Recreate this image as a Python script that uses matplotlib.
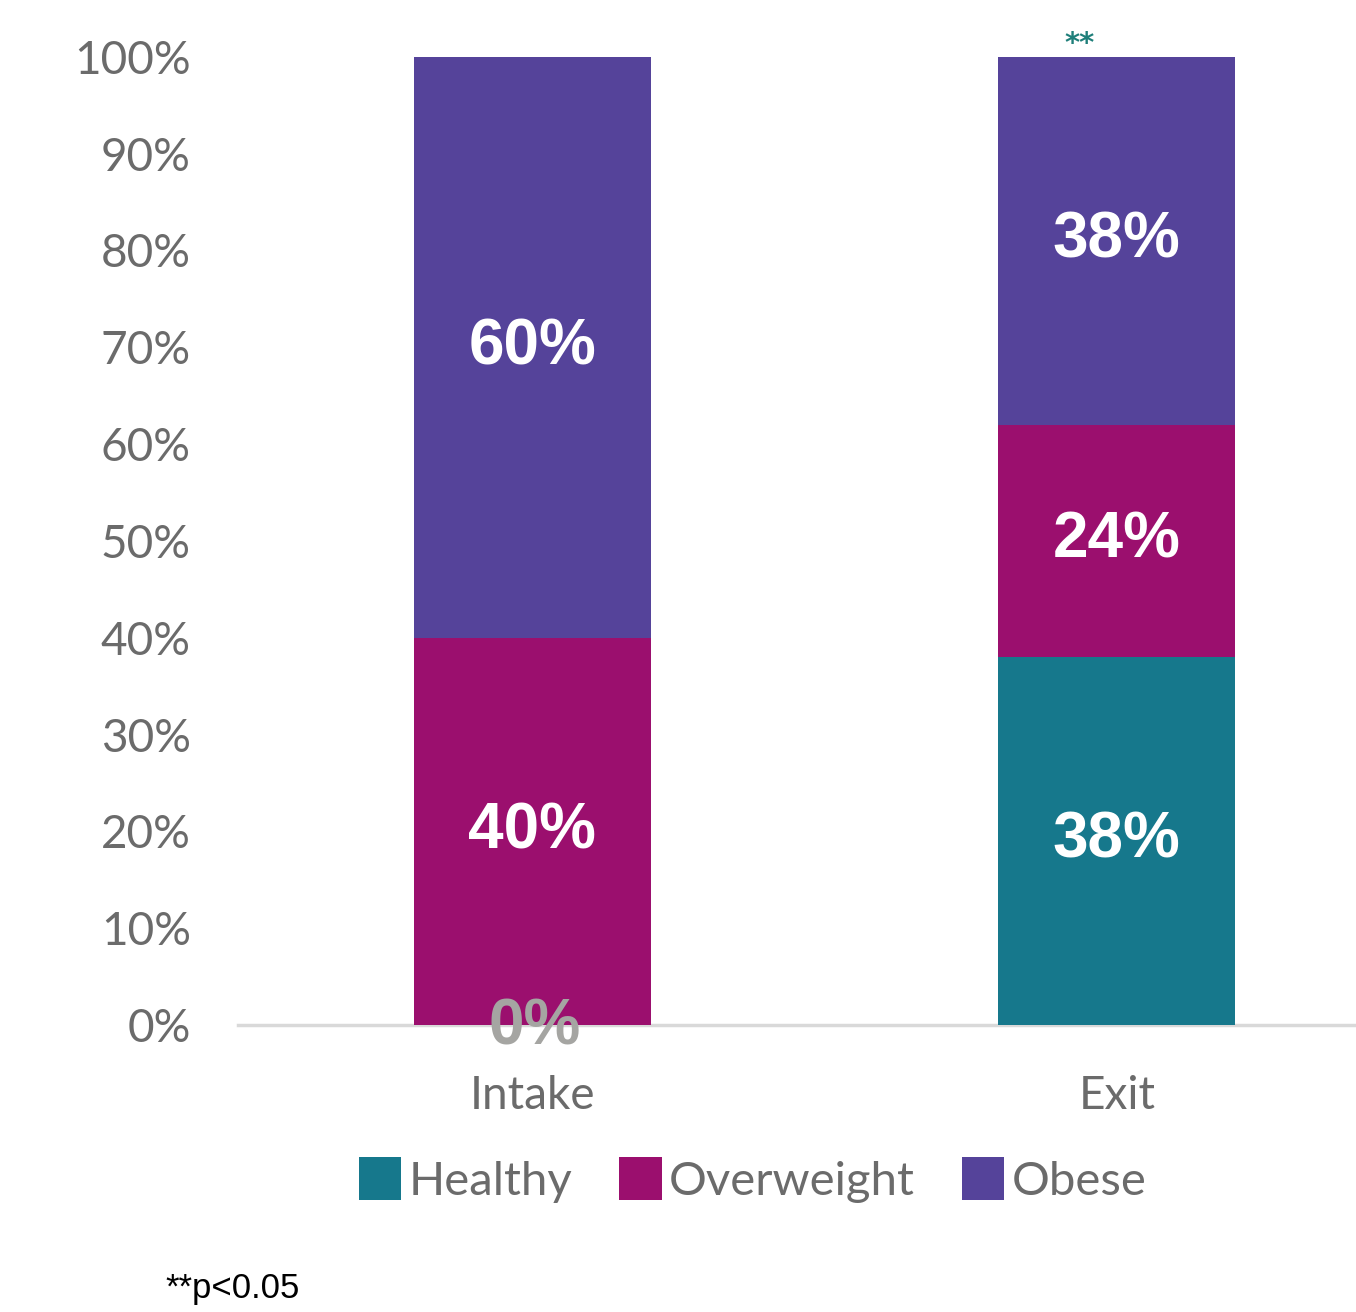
import matplotlib.pyplot as plt
import numpy as np

categories = ["Intake", "Exit"]
series_names = ["Healthy", "Overweight", "Obese"]
healthy = [0.00, 0.38]
overweight = [0.40, 0.24]
obese = [0.60, 0.38]
y_ticks = [0.0, 0.1, 0.2, 0.3, 0.4, 0.5, 0.6, 0.7, 0.8, 0.9, 1.0]

colors = ["#16788c", "#9b0f6e", "#55439a"]
gray = "#6b6b6b"


def main():
    fig = plt.figure(figsize=(13.56, 13.12), dpi=100)
    ax = fig.add_axes([0.1755, 0.2188, 0.8245, 0.760])

    x = np.arange(len(categories))
    width = 0.405
    bottom = np.zeros(len(categories))
    for name, vals, col in zip(series_names, [healthy, overweight, obese], colors):
        vals = np.array(vals)
        ax.bar(x, vals, width, bottom=bottom, color=col, label=name, zorder=2)
        # value labels in the middle of each segment
        for xi, v, b in zip(x, vals, bottom):
            if v > 0:
                ax.text(xi, b + v / 2, "%d%%" % round(v * 100), ha="center", va="center",
                        color="white", fontsize=46, fontweight="bold",
                        family="Liberation Sans", zorder=3)
            else:
                ax.text(xi + 0.005, b - 0.003, "%d%%" % round(v * 100), ha="center", va="center",
                        color="#a5a5a2", fontsize=46, fontweight="bold",
                        family="Liberation Sans", zorder=3)
        bottom = bottom + vals

    # significance marker above the exit bar
    ax.text(x[1] - 0.063, bottom[1] + 0.013, "**", ha="center", va="center",
            color="#1f7f7a", fontsize=21, fontweight="bold", family="DejaVu Sans")

    ax.set_xlim(-0.503, 1.409)
    ax.set_ylim(0, 1.03)
    ax.set_yticks(y_ticks)
    ax.set_yticklabels(["%d%%" % round(t * 100) for t in y_ticks], fontsize=33,
                       color=gray, family="Lato")
    ax.set_xticks(x)
    ax.set_xticklabels(categories, fontsize=33, color=gray, family="Lato")
    ax.tick_params(axis="y", length=0, pad=34)
    ax.tick_params(axis="x", length=0, pad=36)

    for s in ["top", "right", "left"]:
        ax.spines[s].set_visible(False)
    ax.spines["bottom"].set_color("#d9d9d9")
    ax.spines["bottom"].set_linewidth(2.5)
    ax.spines["bottom"].set_zorder(1)

    fig.legend(loc="center", bbox_to_anchor=(0.555, 0.1006), ncol=3, frameon=False,
               prop={"family": "Lato", "size": 34}, labelcolor=gray,
               handlelength=0.9, handleheight=1.0, handletextpad=0.15,
               columnspacing=1.0)

    fig.text(0.122, 0.005, "**p<0.05", fontsize=25, color="black",
             family="Liberation Sans", ha="left", va="bottom")

    fig.savefig("out.png", dpi=100)


if __name__ == '__main__':
    main()
